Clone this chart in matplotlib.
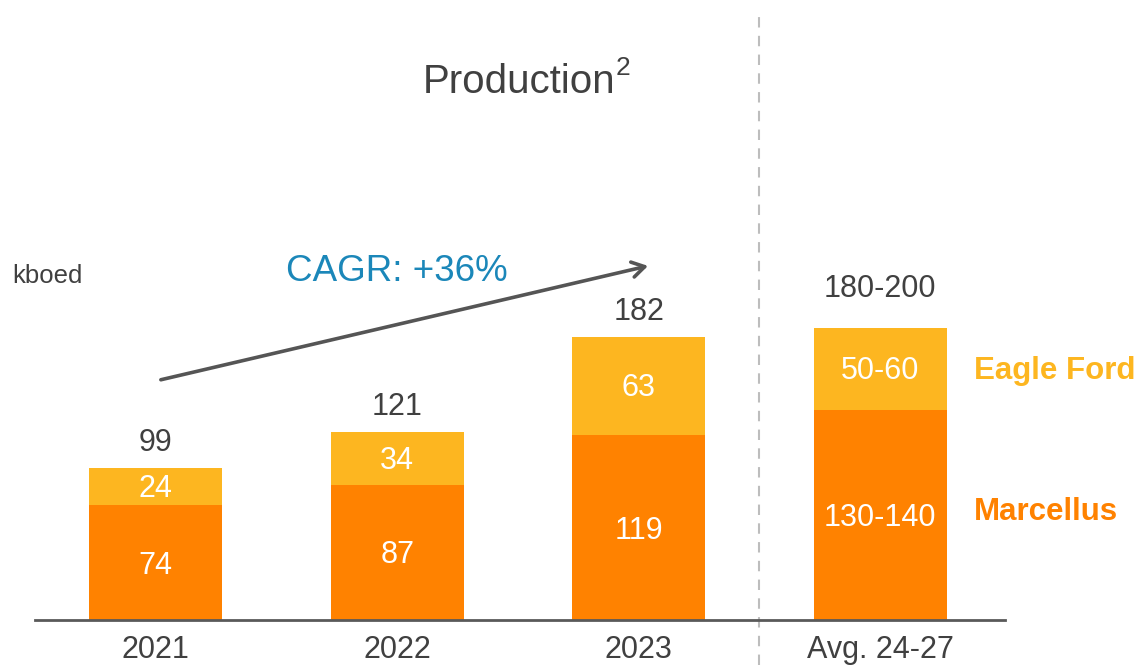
import matplotlib
matplotlib.use("Agg")
import matplotlib.pyplot as plt
import numpy as np

# data
categories = ['2021', '2022', '2023', 'Avg. 24-27']
marcellus = [74, 87, 119, 135]
eagle_ford = [24, 34, 63, 53]
marcellus_lbl = ['74', '87', '119', '130-140']
eagle_lbl = ['24', '34', '63', '50-60']
total_lbl = ['99', '121', '182', '180-200']

orange = '#FF8200'
yellow = '#FDB620'
grey_txt = '#404040'

plt.rcParams['font.family'] = ['Liberation Sans', 'DejaVu Sans']

fig = plt.figure(figsize=(11.43, 6.65), dpi=100)
ax = fig.add_axes([35 / 1143, 45 / 665, 970 / 1143, 620 / 665])

x = np.arange(len(categories))
w = 0.55
ax.bar(x, marcellus, w, color=orange, zorder=2)
ax.bar(x, eagle_ford, w, bottom=marcellus, color=yellow, zorder=2)

totals = np.array(marcellus) + np.array(eagle_ford)
for i in range(len(x)):
    ax.text(x[i], marcellus[i] / 2 - 2, marcellus_lbl[i], ha='center', va='center',
            color='white', fontsize=22)
    ax.text(x[i], marcellus[i] + eagle_ford[i] / 2 - 1.5, eagle_lbl[i], ha='center',
            va='center', color='white', fontsize=22)
    off = 25 if i == 3 else 16
    ax.text(x[i], totals[i] + off, total_lbl[i], ha='center', va='center',
            color=grey_txt, fontsize=22)

# series names next to last bar
ax.text(3.39, marcellus[3] + eagle_ford[3] / 2 - 1.5, 'Eagle Ford', color=yellow,
        fontsize=22.5, fontweight='bold', va='center', ha='left', clip_on=False)
ax.text(3.39, marcellus[3] / 2 + 2, 'Marcellus', color=orange,
        fontsize=22.5, fontweight='bold', va='center', ha='left', clip_on=False)

# separator
ax.plot([2.5, 2.5], [-29, 391], ls=(0, (5, 4)), color='#BDBDBD', lw=1.5,
        clip_on=False, zorder=1)

# CAGR arrow
ax.annotate('', xy=(2.05, 228), xytext=(0.01, 154),
            arrowprops=dict(arrowstyle='->,head_length=0.9,head_width=0.55',
                            color='#555555', lw=2.6))
ax.text(1.0, 224, 'CAGR: +36%', color='#1B87B9', fontsize=26.5,
        ha='center', va='center')

ax.text(-0.594, 221, 'kboed', color=grey_txt, fontsize=18.5, va='center',
        ha='left', clip_on=False)
ax.text(1.505, 346, 'Production', color=grey_txt, fontsize=29,
        ha='center', va='center')
ax.text(1.905, 355, '2', color=grey_txt, fontsize=19,
        ha='left', va='center')

ax.set_xlim(-0.5, 3.517)
ax.set_ylim(0, 398.5)
ax.set_xticks(x)
ax.set_xticklabels(categories, fontsize=22, color=grey_txt)
ax.tick_params(axis='x', length=0, pad=11)
ax.set_yticks([])
for s in ['top', 'right', 'left']:
    ax.spines[s].set_visible(False)
ax.spines['bottom'].set_color('#595959')
ax.spines['bottom'].set_linewidth(2)
ax.spines['bottom'].set_zorder(3)

fig.savefig('out.png', dpi=100)
